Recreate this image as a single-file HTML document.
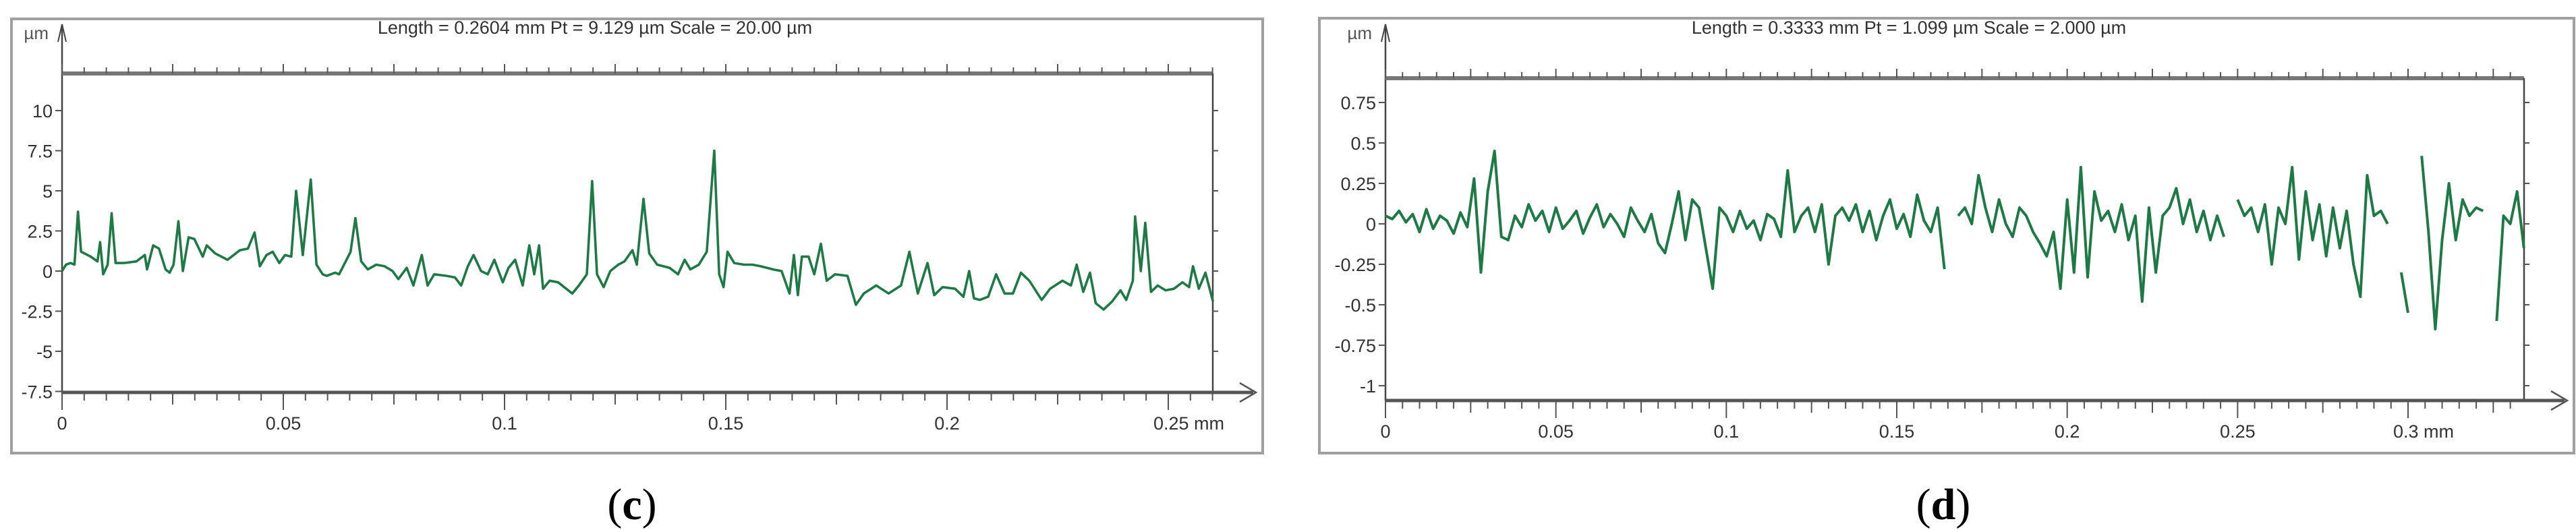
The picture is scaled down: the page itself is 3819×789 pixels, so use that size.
<!DOCTYPE html>
<html><head><meta charset="utf-8"><style>
html,body{margin:0;padding:0;background:#fff;}
svg{display:block;}
</style></head><body>
<svg id="fig" width="3819" height="789" viewBox="0 0 3819 789" xmlns="http://www.w3.org/2000/svg" font-family="Liberation Sans, sans-serif"></svg>
<script>
// ---- Panel (c) data ----
const cX = [0,.0009,.0019,.0028,.0036,.0043,.0065,.0080,.0086,.0093,.0103,.0112,.0121,.0140,.0168,.0187,.0192,.0206,.0219,.0234,.0243,.0252,.0263,.0273,.0286,.0299,.0318,.0327,.0346,.0374,.0402,.0420,.0435,.0447,.0462,.0476,.0491,.0504,.0518,.0529,.0544,.0562,.0575,.0589,.0598,.0617,.0626,.0641,.0652,.0663,.0676,.0691,.0710,.0729,.0747,.0760,.0779,.0794,.0813,.0826,.0841,.0869,.0888,.0902,.0917,.0930,.0947,.0962,.0977,.0996,.1009,.1024,.1041,.1056,.1067,.1078,.1087,.1102,.1121,.1153,.1168,.1186,.1198,.1209,.1224,.1239,.1257,.1271,.1289,.1299,.1314,.1327,.1345,.1373,.1392,.1407,.1420,.1439,.1457,.1474,.1485,.1495,.1504,.1519,.1541,.1560,.1579,.1607,.1626,.1644,.1654,.1663,.1672,.1687,.1700,.1715,.1728,.1747,.1775,.1794,.1812,.1840,.1868,.1896,.1915,.1934,.1956,.1971,.1990,.2018,.2037,.2050,.2061,.2074,.2093,.2111,.2130,.2149,.2167,.2186,.2214,.2233,.2261,.2280,.2293,.2308,.2323,.2336,.2354,.2373,.2392,.2405,.2420,.2425,.2438,.2448,.2461,.2476,.2494,.2513,.2532,.2547,.2556,.2569,.2584,.2601];
const cY = [0,.4,.5,.4,3.7,1.2,.9,.6,1.8,-.2,.4,3.6,.5,.5,.6,1.0,.1,1.6,1.4,.1,-.1,.4,3.1,0,2.1,2.0,.9,1.6,1.1,.7,1.3,1.4,2.4,.3,1.0,1.2,.5,1.0,.9,5.0,1.0,5.7,.4,-.2,-.3,-.1,-.2,.6,1.2,3.3,.6,.1,.4,.3,0,-.5,.2,-.9,1.0,-.9,-.2,-.3,-.4,-.9,.3,1.0,0,-.2,.7,-.7,.2,.7,-.9,1.6,-.2,1.6,-1.1,-.6,-.7,-1.4,-.9,-.2,5.6,-.2,-1.0,0,.4,.6,1.3,.4,4.5,1.1,.4,.2,-.2,.7,.1,.4,1.2,7.5,-.2,-1.0,1.2,.5,.4,.4,.3,.1,0,-1.4,1.0,-1.5,.9,.9,-.2,1.7,-.6,-.2,-.3,-2.1,-1.4,-.9,-1.4,-.9,1.2,-1.4,.5,-1.5,-1.0,-1.1,-1.6,0,-1.7,-1.8,-1.6,-.2,-1.4,-1.4,-.1,-.6,-1.8,-1.1,-.6,-.9,.4,-1.3,-.1,-2.0,-2.4,-1.9,-1.2,-1.8,-.6,3.4,0,3.0,-1.3,-.9,-1.2,-1.1,-.7,-1.0,.3,-1.1,-.1,-1.9];
const cYTicks = [10,7.5,5,2.5,0,-2.5,-5,-7.5];
const cXTicks = ["0","0.05","0.1","0.15","0.2","0.25 mm"];
const cXTickVals = [0,.05,.1,.15,.2,.25];
// ---- Panel (d) data ----
const dStep = 0.002;
const dY = [0.05,0.03,0.08,0.01,0.06,-0.05,0.09,-0.03,0.05,0.02,-0.06,0.07,-0.02,0.28,-0.3,0.2,0.45,-0.08,
-0.1,0.05,-0.02,0.12,0.02,0.08,-0.05,0.1,-0.03,0.02,0.08,-0.06,0.04,0.12,-0.02,0.06,0.0,-0.08,0.1,0.02,-0.05,0.06,-0.12,-0.18,0.0,0.2,-0.1,0.15,
0.1,-0.15,-0.4,0.1,0.05,-0.05,0.08,-0.03,0.02,-0.1,0.06,0.03,-0.08,
0.33,-0.05,0.05,0.1,-0.05,0.12,-0.25,0.05,0.1,
0.02,0.12,-0.05,0.08,-0.1,0.05,0.15,-0.03,0.06,-0.08,0.18,0.02,-0.05,
0.1,-0.28,null,0.05,0.1,0.0,0.3,0.1,-0.05,0.15,0.0,-0.08,0.1,0.05,-0.05,-0.12,-0.2,
-0.05,-0.4,0.15,-0.3,0.35,-0.33,0.2,0.02,0.08,-0.05,0.12,-0.1,0.05,-0.48,0.1,-0.3,0.05,0.1,0.22,0.0,0.15,-0.05,0.08,-0.1,0.05,-0.08,null,
0.15,0.05,0.1,-0.05,0.12,-0.25,0.1,0.0,0.35,-0.22,0.2,-0.1,0.12,-0.2,0.1,-0.15,0.08,-0.25,-0.45,0.3,0.05,0.08,0.0,
null,-0.3,-0.55,null,0.42,-0.05,-0.65,-0.1,0.25,-0.1,0.15,0.05,0.1,0.08,null,-0.6,0.05,0.0,0.2,-0.15];
const dYTicks = [0.75,0.5,0.25,0,-0.25,-0.5,-0.75,-1];
const dXTicks = ["0","0.05","0.1","0.15","0.2","0.25","0.3 mm"];
const dXTickVals = [0,.05,.1,.15,.2,.25,.3];

const NS="http://www.w3.org/2000/svg";
const svg=document.getElementById('fig');
function mk(tag,attrs,parent){const e=document.createElementNS(NS,tag);for(const k in attrs)e.setAttribute(k,attrs[k]);(parent||svg).appendChild(e);return e;}

function panel(o){
  const g=mk('g',{});
  
  
  const fr=mk('rect',{x:o.fx,y:o.fy,width:o.fw,height:o.fh,fill:'none',stroke:'#a0a0a0','stroke-width':4},g);
  
  
  const sx=v=>o.x0+(v-o.xmin)/(o.xmax-o.xmin)*(o.x1-o.x0);
  const sy=v=>o.yZero-v*o.yPer;
  const t=mk('text',{x:o.titleX,y:50,'font-size':27,'text-anchor':'middle',fill:'#333'},g);
  t.textContent=o.title;
  
  
  const u=mk('text',{x:o.x0-20,y:58,'font-size':26,'text-anchor':'end',fill:'#555'},g);
  u.textContent='µm';
  
  
  mk('line',{x1:o.x0,y1:36,x2:o.x0,y2:o.yb,stroke:'#444','stroke-width':2.5},g);
  mk('path',{d:`M${o.x0-6} 62 L${o.x0} 36 L${o.x0+6} 62`,fill:'none',stroke:'#444','stroke-width':2},g);
  const tb=mk('line',{x1:o.x0,y1:o.yt,x2:o.x1,y2:o.yt,stroke:'#777','stroke-width':6},g);
  
  
  mk('line',{x1:o.x1,y1:o.yt,x2:o.x1,y2:o.yb,stroke:'#444','stroke-width':2.5},g);
  const xa=mk('line',{x1:o.x0,y1:o.yb,x2:o.x1+60,y2:o.yb,stroke:'#555','stroke-width':5},g);
  
  
  mk('path',{d:`M${o.x1+40} ${o.yb-14} L${o.x1+64} ${o.yb} L${o.x1+40} ${o.yb+14}`,fill:'none',stroke:'#555','stroke-width':2.5},g);
  for(let v=0;v<=o.xmax+1e-9;v+=0.005){
    const x=sx(v);const maj=Math.abs(v/0.05-Math.round(v/0.05))<1e-6;const mid=Math.abs(v/0.025-Math.round(v/0.025))<1e-6;
    mk('line',{x1:x,y1:o.yb,x2:x,y2:o.yb+(maj?26:(mid?18:12)),stroke:'#555','stroke-width':2},g);
    mk('line',{x1:x,y1:o.yt,x2:x,y2:o.yt-(mid?14:9),stroke:'#555','stroke-width':2},g);
  }
  o.xTickVals.forEach((v,i)=>{
    const last=i==o.xTickVals.length-1;
    const tx=mk('text',{x:last?sx(v)-22:sx(v),y:o.yb+55,'font-size':27,'text-anchor':last?'start':'middle',fill:'#333'},g);
    tx.textContent=o.xTicks[i];
    
    
  });
  o.yTicks.forEach(v=>{
    const y=sy(v);
    mk('line',{x1:o.x0-10,y1:y,x2:o.x0,y2:y,stroke:'#555','stroke-width':2},g);
    mk('line',{x1:o.x1,y1:y,x2:o.x1+8,y2:y,stroke:'#555','stroke-width':2},g);
    const ty=mk('text',{x:o.x0-14,y:y+10,'font-size':27,'text-anchor':'end',fill:'#333'},g);
    ty.textContent=String(v);
    
    
  });
  let d='',pen=false;
  for(let i=0;i<o.xs.length;i++){
    const v=o.ys[i];
    if(v===null||v===undefined){pen=false;continue;}
    d+=(pen?'L':'M')+sx(o.xs[i]).toFixed(1)+' '+sy(v).toFixed(1)+' ';pen=true;
  }
  const p=mk('path',{d:d,fill:'none',stroke:'#1d7a45','stroke-width':o.sw,'stroke-linejoin':'round'},g);
  
  
  const lb=mk('text',{x:o.labelX,y:770,'font-size':66,'text-anchor':'middle',fill:'#000',style:'font-family:"Liberation Serif",serif'},g);
  lb.innerHTML='(<tspan font-weight="bold">'+o.label+'</tspan>)';
  
  
}

panel({name:'panel-c',fx:17,fy:28,fw:1855,fh:644,x0:92,x1:1798,xmin:0,xmax:0.25*(1798-92)/(1732-92),yt:109,yb:582,yZero:402,yPer:23.8,sw:3.6,
  title:'Length = 0.2604 mm  Pt = 9.129 µm  Scale = 20.00 µm',titleX:882,xs:cX,ys:cY,yTicks:cYTicks,xTicks:cXTicks,xTickVals:cXTickVals,label:'c',labelX:937});
const dX=dY.map((_,i)=>i*dStep);
panel({name:'panel-d',fx:1956,fy:27,fw:1860,fh:645,x0:2054,x1:3742,xmin:0,xmax:0.3*(3742-2054)/(3570-2054),yt:116,yb:594,yZero:332,yPer:240,sw:4,
  title:'Length = 0.3333 mm  Pt = 1.099 µm  Scale = 2.000 µm',titleX:2830,xs:dX,ys:dY,yTicks:dYTicks,xTicks:dXTicks,xTickVals:dXTickVals,label:'d',labelX:2881});
</script>
</body></html>
